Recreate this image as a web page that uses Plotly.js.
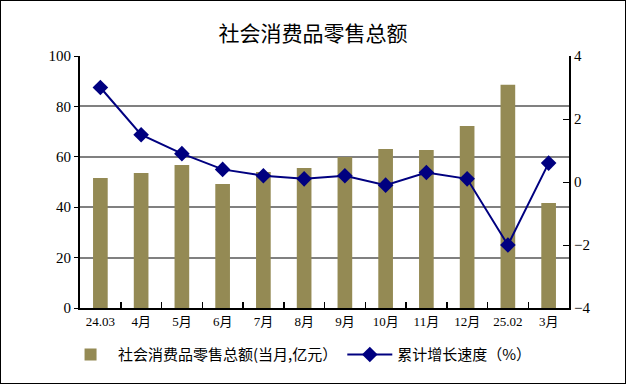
<!DOCTYPE html>
<html><head><meta charset="utf-8">
<script src="https://cdn.plot.ly/plotly-3.0.1.min.js"></script>
<style>html,body{margin:0;padding:0;background:#fff}#c{width:624px;height:382px;border:1px solid #000}</style>
</head><body><div id="c"></div>
<script>
var categories = ["24.03","4月","5月","6月","7月","8月","9月","10月","11月","12月","25.02","3月"];
var salesValues = [51.6,53.6,56.7,49.2,54.0,55.6,59.9,63.1,62.7,72.2,88.6,41.7];
var growthValues = [3.0,1.5,0.9,0.4,0.2,0.1,0.2,-0.1,0.3,0.1,-2.0,0.6];
var barName = "社会消费品零售总额(当月,亿元）";
var lineName = "累计增长速度（%）";
var titleText = "社会消费品零售总额";

var fontFam = "'Liberation Serif', 'Times New Roman', 'Noto Sans CJK SC', serif";
var data = [
 {type:"bar", x:categories, y:salesValues, name:barName, marker:{color:"#948a54"}, yaxis:"y"},
 {type:"scatter", mode:"lines+markers", x:categories, y:growthValues, name:lineName, yaxis:"y2",
  line:{color:"#000080", width:2}, marker:{symbol:"diamond", size:12, color:"#000080"}}
];
var layout = {
 width:624, height:382,
 margin:{l:79, r:56, t:55, b:75},
 paper_bgcolor:"#fff", plot_bgcolor:"#fff",
 title:{text:titleText, x:0.5, xanchor:"center", y:0.915, yanchor:"middle",
        font:{family:"'Noto Sans CJK SC', sans-serif", size:21, color:"#000"}},
 bargap:0.64,
 showlegend:true,
 legend:{orientation:"h", x:0.45, xanchor:"center", y:-0.12, yanchor:"top",
         font:{family:"'Noto Sans CJK SC', sans-serif", size:15, color:"#000"}, traceorder:"normal", itemwidth:45},
 xaxis:{type:"category", range:[-0.5, categories.length-0.5], showline:true, linecolor:"#000", linewidth:2,
        ticks:"inside", ticklen:6, tickcolor:"#000",
        tickwidth:1.5, tickson:"boundaries", showgrid:false, mirror:false, tickangle:0,
        tickfont:{family:fontFam, size:13, color:"#000"}},
 yaxis:{range:[0,100], dtick:20, showline:true, linecolor:"#000", linewidth:2, ticks:"outside", ticklen:4,
        tickcolor:"#000", showgrid:true, gridcolor:"#808080", gridwidth:2, zeroline:false,
        tickfont:{family:fontFam, size:15, color:"#000"}},
 yaxis2:{range:[-4,4], dtick:2, overlaying:"y", side:"right", showline:true, linecolor:"#000", linewidth:2,
        ticks:"inside", ticklen:6, tickcolor:"#000", showgrid:false, zeroline:false,
        tickfont:{family:fontFam, size:15, color:"#000"}}
};
Plotly.newPlot("c", data, layout, {displayModeBar:false, staticPlot:true});
</script></body></html>
